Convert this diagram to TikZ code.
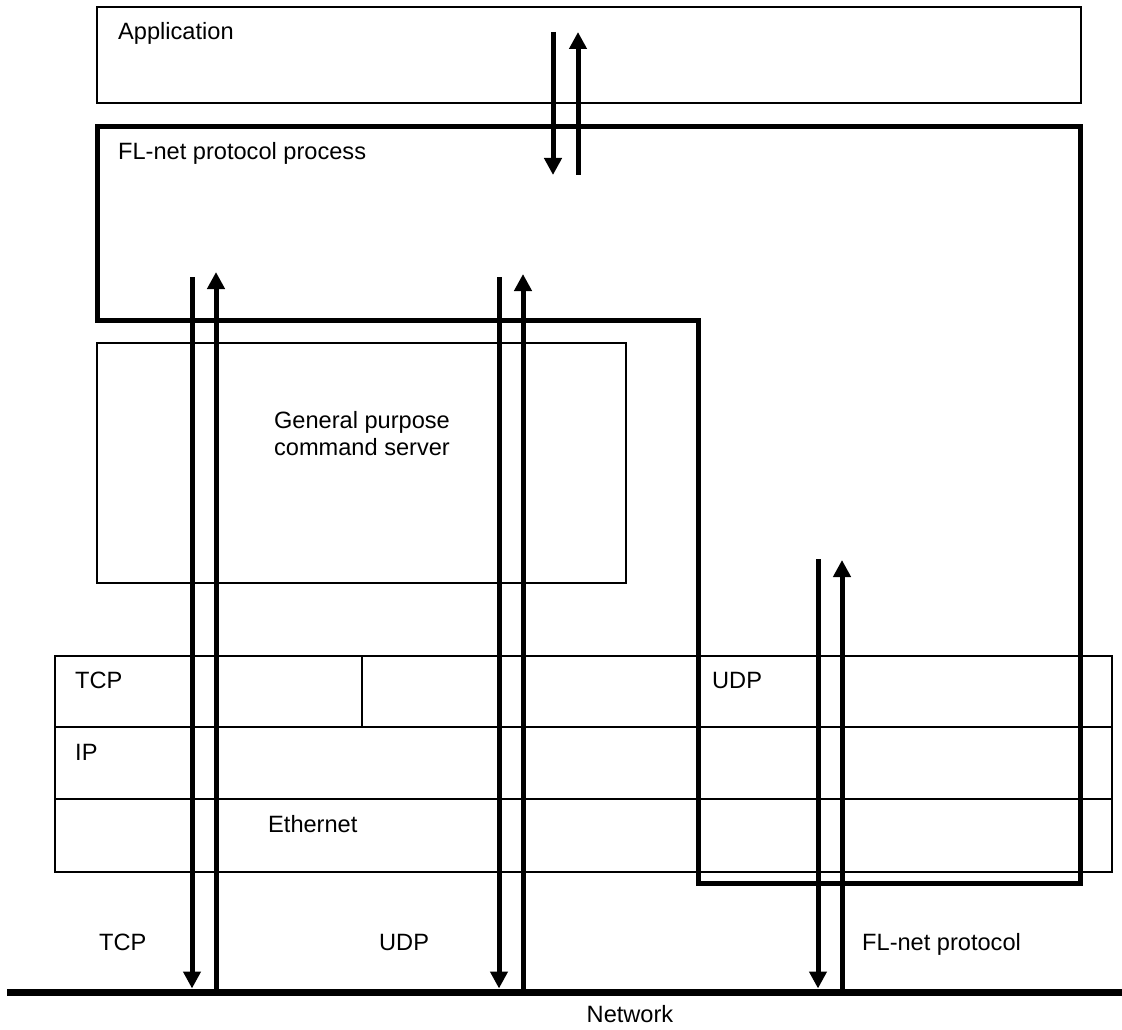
\documentclass[tikz,border=0pt]{standalone}
\usepackage{fontspec}
\setmainfont{Liberation Sans}
\usetikzlibrary{arrows.meta}
\begin{document}
\begin{tikzpicture}[x=1pt,y=-1pt,
  box/.style={draw, line width=1.5pt, inner sep=0pt, outer sep=0pt, anchor=north west},
  layer/.style={draw, line width=2pt, inner sep=0pt, outer sep=0pt, anchor=north west},
  lbl/.style={anchor=base west, inner sep=0pt, font=\fontsize{23.6}{26.5}\selectfont},
  clbl/.style={anchor=base, inner sep=0pt, font=\fontsize{23.6}{26.5}\selectfont},
  process/.style={line width=5pt, line join=miter},
  flow/.style={line width=5pt, -{Triangle[length=17pt,width=17pt]}},
]
\useasboundingbox[fill=white] (0,0) rectangle (1122,1030);

% boxes
\node[box, minimum width=984pt, minimum height=96pt] (app) at (97,7) {};
\node[box, minimum width=529pt, minimum height=240pt] (gpcs) at (97,343) {};
\node[layer, minimum width=307pt, minimum height=71pt] (tcp) at (55,656) {};
\node[layer, minimum width=750pt, minimum height=71pt] (udp) at (362,656) {};
\node[layer, minimum width=1057pt, minimum height=72pt] (ip) at (55,727) {};
\node[layer, minimum width=1057pt, minimum height=73pt] (eth) at (55,799) {};

% FL-net protocol process outline
\draw[process] (97,127) -- (1080,127) -- (1080,883) -- (698,883) -- (698,320) -- (97,320) -- cycle;

% network line
\node[fill=black, inner sep=0pt, outer sep=0pt, minimum width=1115pt, minimum height=7pt, anchor=west] (net) at (7,992) {};

% labels
\node[lbl] (tapp) at (118,39.5) {Application};
\node[lbl] (tfl) at (118,160) {FL-net protocol process};
\node[anchor=north, align=center, inner sep=0pt, font=\fontsize{23.6}{26.5}\selectfont] (tgp) at (362,411.5) {General purpose\\command server};
\node[lbl] (ttcp) at (75,688) {TCP};
\node[lbl] (tudp) at (712,688) {UDP};
\node[lbl] (tip) at (75,760) {IP};
\node[lbl] (teth) at (268,832) {Ethernet};
\node[lbl] (btcp) at (99,950) {TCP};
\node[lbl] (budp) at (379,950) {UDP};
\node[lbl] (bfl) at (862,950) {FL-net protocol};
\node[clbl] (bnet) at (630,1022) {Network};

% arrow end points
\coordinate (a1s) at (553,32);  \coordinate (a1e) at (553,175);
\coordinate (a2s) at (578,175); \coordinate (a2e) at (578,32);
\coordinate (t1) at (192,277);  \coordinate (t2) at (216,272);
\coordinate (u1) at (499,277);  \coordinate (u2) at (523,274);
\coordinate (f1) at (818,559);  \coordinate (f2) at (842,560);

% arrows
\draw[flow] (a1s) -- (a1e);
\draw[flow] (a2s) -- (a2e);
\draw[flow] (t1) -- (t1 |- net.north);
\draw[flow] (t2 |- net.center) -- (t2);
\draw[flow] (u1) -- (u1 |- net.north);
\draw[flow] (u2 |- net.center) -- (u2);
\draw[flow] (f1) -- (f1 |- net.north);
\draw[flow] (f2 |- net.center) -- (f2);
\end{tikzpicture}
\end{document}
